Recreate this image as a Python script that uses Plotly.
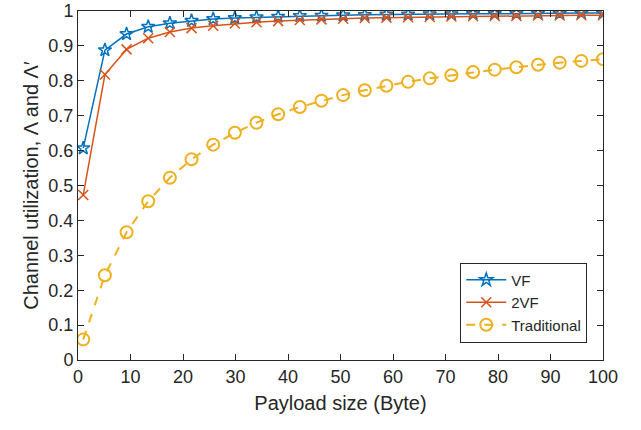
import plotly.graph_objects as go

payload = [1, 5.125, 9.25, 13.375, 17.5, 21.625, 25.75, 29.875, 34, 38.125,
           42.25, 46.375, 50.5, 54.625, 58.75, 62.875, 67, 71.125, 75.25,
           79.375, 83.5, 87.625, 91.75, 95.875, 100]

vf = [0.607, 0.888, 0.934, 0.955, 0.965, 0.972, 0.977, 0.980, 0.982, 0.984,
      0.986, 0.987, 0.988, 0.989, 0.990, 0.990, 0.991, 0.991, 0.992, 0.992,
      0.993, 0.993, 0.993, 0.994, 0.994]

vf2 = [0.473, 0.818, 0.890, 0.922, 0.940, 0.951, 0.958, 0.964, 0.968, 0.971,
       0.974, 0.976, 0.978, 0.980, 0.981, 0.982, 0.983, 0.984, 0.985, 0.986,
       0.986, 0.987, 0.987, 0.988, 0.988]

traditional = [0.059, 0.243, 0.366, 0.455, 0.522, 0.575, 0.617, 0.651, 0.680,
               0.704, 0.725, 0.743, 0.759, 0.773, 0.786, 0.797, 0.807, 0.816,
               0.825, 0.832, 0.839, 0.846, 0.852, 0.857, 0.862]

x_ticks = [0, 10, 20, 30, 40, 50, 60, 70, 80, 90, 100]
y_ticks = [0, 0.1, 0.2, 0.3, 0.4, 0.5, 0.6, 0.7, 0.8, 0.9, 1]
y_tick_text = ["0", "0.1", "0.2", "0.3", "0.4", "0.5", "0.6", "0.7", "0.8", "0.9", "1"]

FONT = "Liberation Sans, Arial, Helvetica"
INK = "#262626"

fig = go.Figure()
fig.add_trace(go.Scatter(x=payload, y=vf, name="VF", mode="lines+markers",
                         line=dict(color="#0072BD", width=1.5),
                         marker=dict(symbol="star-open", size=10, color="#0072BD",
                                     line=dict(width=1.5, color="#0072BD"))))
fig.add_trace(go.Scatter(x=payload, y=vf2, name="2VF", mode="lines+markers",
                         line=dict(color="#D95319", width=1.5),
                         marker=dict(symbol="x-thin-open", size=10, color="#D95319",
                                     line=dict(width=1.5, color="#D95319"))))
fig.add_trace(go.Scatter(x=payload, y=traditional, name="Traditional", mode="lines+markers",
                         line=dict(color="#EDB120", width=2, dash="dash"),
                         marker=dict(symbol="circle-open", size=12, color="#EDB120",
                                     line=dict(width=2, color="#EDB120"))))

axis_common = dict(showgrid=False, zeroline=False, showline=True, linecolor=INK,
                   linewidth=1, mirror="ticks", ticks="inside", ticklen=6,
                   tickcolor=INK, automargin=False,
                   tickfont=dict(family=FONT, size=18, color=INK))

fig.update_xaxes(range=[0, 100], tickvals=x_ticks,
                 title=dict(text="Payload size (Byte)", font=dict(family=FONT, size=20, color=INK), standoff=10),
                 **axis_common)
fig.update_yaxes(range=[0, 1], tickvals=y_ticks, ticktext=y_tick_text,
                 title=dict(text="Channel utilization, Λ and Λ′", font=dict(family=FONT, size=20, color=INK), standoff=4),
                 **axis_common)

fig.update_layout(
    width=641, height=430,
    margin=dict(l=78, r=38, t=11, b=70, pad=0),
    paper_bgcolor="white", plot_bgcolor="white",
    legend=dict(x=0.97, y=0.05, xanchor="right", yanchor="bottom",
                bordercolor=INK, borderwidth=1, bgcolor="white",
                font=dict(family=FONT, size=15, color=INK),
                tracegroupgap=0, itemwidth=40),
    showlegend=True,
)

fig.write_html("out.html", config={"displayModeBar": False},
               post_script="document.body.style.margin='0';")
